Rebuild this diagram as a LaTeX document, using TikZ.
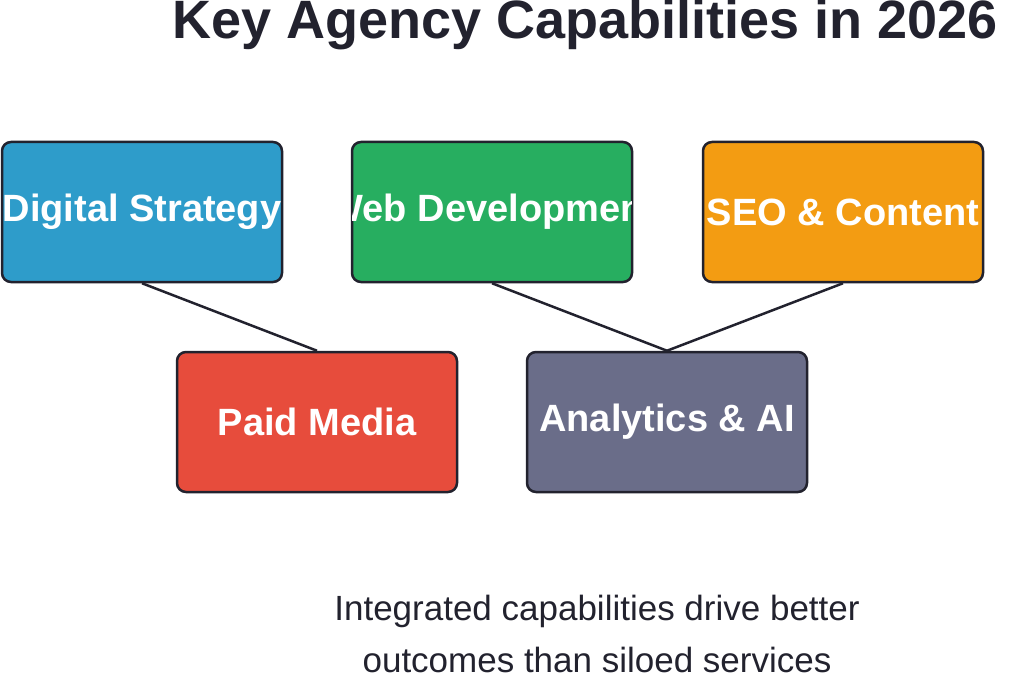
\documentclass[tikz,border=0pt]{standalone}
\usepackage{fontspec}
\setmainfont{Liberation Sans}
\definecolor{cblue}{HTML}{2E9CCA}
\definecolor{cgreen}{HTML}{27AE60}
\definecolor{corange}{HTML}{F39C12}
\definecolor{cred}{HTML}{E74C3C}
\definecolor{cgrey}{HTML}{6A6D89}
\definecolor{cdark}{HTML}{22222E}
\begin{document}
\begin{tikzpicture}[x=1pt,y=-1pt,
  capbox/.style={draw=cdark,line width=2.5pt,rounded corners=9pt,minimum width=280pt,minimum height=140pt,inner sep=0pt},
  caplabel/.style={text=white,font=\bfseries\fontsize{38}{44}\selectfont},
  link/.style={draw=cdark,line width=2.5pt}]
\useasboundingbox (0,0) rectangle (1024,676);
\node[capbox,fill=cblue] (ds) at (142,212) {};
\node[capbox,fill=cgreen] (wd) at (492,212) {};
\node[capbox,fill=corange] (seo) at (843,212) {};
\node[capbox,fill=cred] (pm) at (317,422) {};
\node[capbox,fill=cgrey] (ai) at (667,422) {};
\draw[link] (ds.south) -- (pm.north);
\draw[link] (wd.south) -- (ai.north);
\draw[link] (seo.south) -- (ai.north);
\foreach \n/\t in {ds/Digital Strategy,wd/Web Development,seo/SEO \& Content,pm/Paid Media,ai/Analytics \& AI}{
  \begin{scope}
    \clip ([xshift=2pt,yshift=-2pt]\n.north west) rectangle ([xshift=-2pt,yshift=2pt]\n.south east);
    \node[caplabel] (\n-t) at (\n.center) {\t};
  \end{scope}}
\begin{scope}
\clip (0,0) rectangle (1024,676);
\node[font=\bfseries\fontsize{54}{60}\selectfont,text=cdark,anchor=west,inner sep=0pt] (title) at (172,25) {Key Agency Capabilities in 2026};
\end{scope}
\node[font=\fontsize{35}{52}\selectfont,text=cdark,align=center] (note) at (597,634) {Integrated capabilities drive better\\outcomes than siloed services};
\end{tikzpicture}
\end{document}
